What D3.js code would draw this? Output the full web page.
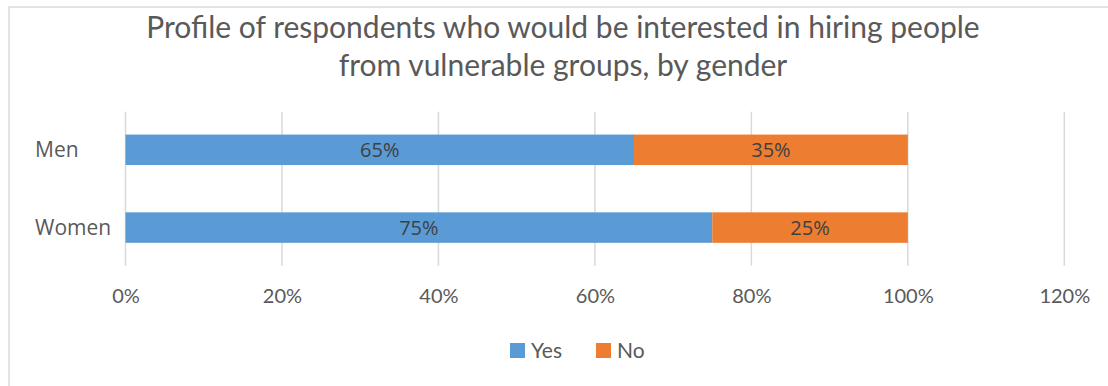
<!DOCTYPE html>
<html>
<head>
<meta charset="utf-8">
<script src="https://cdn.jsdelivr.net/npm/d3@7"></script>
<style>
  html, body { margin: 0; padding: 0; background: #fff; }
  svg { display: block; }
</style>
</head>
<body>
<svg id="chart" width="1108" height="386"></svg>
<script>
// Hiring interest by gender (share of respondents)
const categories = ["Men", "Women"];
const seriesNames = ["Yes", "No"];
const yesValues = [0.65, 0.75];
const noValues = [0.35, 0.25];
const tickValues = [0, 0.2, 0.4, 0.6, 0.8, 1.0, 1.2];
const titleLines = [
  "Profile of respondents who would be interested in hiring people",
  "from vulnerable groups, by gender"
];
const colors = ["#5B9BD5", "#ED7D31"];

const svg = d3.select("#chart");
const W = 1108, H = 386;

// chart frame (left and top edges)
svg.append("path")
  .attr("d", `M9,${H} V7 H${W}`)
  .attr("fill", "none")
  .attr("stroke", "#e3e3e3")
  .attr("stroke-width", 2);

// title
const title = svg.append("text")
  .attr("text-anchor", "middle")
  .attr("font-family", "Lato, 'Noto Sans', sans-serif")
  .attr("font-size", 30)
  .attr("fill", "#595959");
titleLines.forEach((t, i) => {
  title.append("tspan")
    .attr("x", 563)
    .attr("y", 38 + i * 38)
    .text(t);
});

const x = d3.scaleLinear().domain([0, 1.2]).range([125.5, 1064.3]);
const y = d3.scaleBand().domain(categories).range([111.7, 265.7])
  .paddingInner(0.608).paddingOuter(0.294);

// vertical gridlines
svg.append("g")
  .selectAll("line")
  .data(tickValues)
  .join("line")
  .attr("x1", d => x(d)).attr("x2", d => x(d))
  .attr("y1", 111.7).attr("y2", 265.7)
  .attr("stroke", "#d9d9d9")
  .attr("stroke-width", 1.5);

// x-axis tick labels
const xAxis = d3.axisBottom(x)
  .tickValues(tickValues)
  .tickFormat(d3.format(".0%"))
  .tickSize(0)
  .tickPadding(0);
const xg = svg.append("g")
  .attr("transform", "translate(0,289)")
  .call(xAxis);
xg.select(".domain").remove();
xg.selectAll("text")
  .attr("font-family", "Lato, 'Noto Sans', sans-serif")
  .attr("font-size", 20)
  .attr("fill", "#595959")
  .attr("dy", "0.71em");

// category labels
svg.append("g")
  .selectAll("text")
  .data(categories)
  .join("text")
  .attr("x", 35)
  .attr("y", d => y(d) + y.bandwidth() / 2)
  .attr("dy", "0.35em")
  .attr("font-family", "'Open Sans', sans-serif")
  .attr("font-size", 21)
  .attr("fill", "#595959")
  .text(d => d);

// stacked bars
const rows = categories.map((c, i) => ({ category: c, Yes: yesValues[i], No: noValues[i] }));
const stacked = d3.stack().keys(seriesNames)(rows);

const layers = svg.append("g")
  .selectAll("g")
  .data(stacked)
  .join("g")
  .attr("fill", (d, i) => colors[i]);

layers.selectAll("rect")
  .data(d => d)
  .join("rect")
  .attr("x", d => x(d[0]))
  .attr("y", d => y(d.data.category))
  .attr("width", d => x(d[1]) - x(d[0]))
  .attr("height", y.bandwidth());

// value labels
layers.selectAll("text")
  .data(d => d)
  .join("text")
  .attr("x", d => (x(d[0]) + x(d[1])) / 2)
  .attr("y", d => y(d.data.category) + y.bandwidth() / 2)
  .attr("dy", "0.35em")
  .attr("text-anchor", "middle")
  .attr("font-family", "'Open Sans', sans-serif")
  .attr("font-size", 20)
  .attr("fill", "#404040")
  .text(d => d3.format(".0%")(d[1] - d[0]));

// legend
const legend = svg.append("g").attr("transform", "translate(510,351)");
const legendX = [0, 86];
seriesNames.forEach((name, i) => {
  const g = legend.append("g").attr("transform", `translate(${legendX[i]},0)`);
  g.append("rect")
    .attr("x", 0).attr("y", -8)
    .attr("width", 15).attr("height", 15)
    .attr("fill", colors[i]);
  g.append("text")
    .attr("x", 21).attr("y", 0)
    .attr("dy", "0.35em")
    .attr("font-family", "Lato, 'Noto Sans', sans-serif")
    .attr("font-size", 21)
    .attr("fill", "#595959")
    .text(name);
});
</script>
</body>
</html>
